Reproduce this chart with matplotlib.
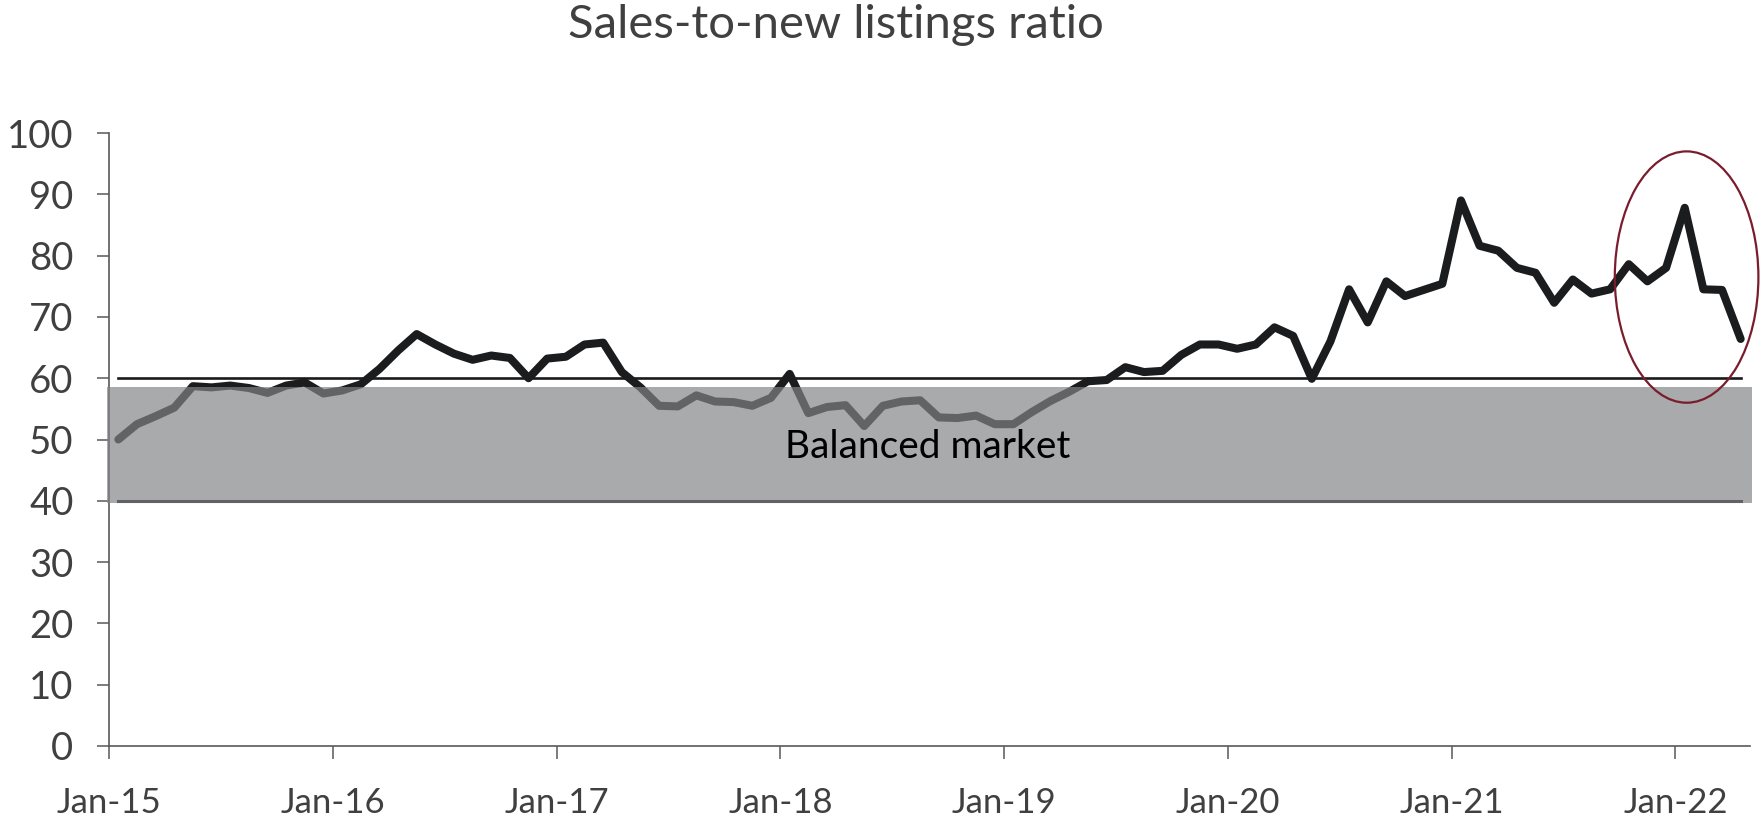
import numpy as np
import matplotlib
matplotlib.use("Agg")
import matplotlib.pyplot as plt
import matplotlib.patches as patches

# ------------------------
# Datos (mensual, ene-2015 a abr-2022)
# ------------------------
ratio_2015 = [50.0, 52.5, 53.8, 55.2, 58.7, 58.5, 58.8, 58.4, 57.6, 58.8, 59.3, 57.5]
ratio_2016 = [58.0, 59.0, 61.5, 64.5, 67.2, 65.5, 64.0, 63.0, 63.7, 63.3, 60.0, 63.2]
ratio_2017 = [63.5, 65.5, 65.8, 61.0, 58.5, 55.5, 55.4, 57.2, 56.2, 56.1, 55.5, 56.8]
ratio_2018 = [60.7, 54.3, 55.3, 55.6, 52.2, 55.5, 56.2, 56.4, 53.6, 53.5, 53.9, 52.5]
ratio_2019 = [52.5, 54.5, 56.3, 57.8, 59.5, 59.7, 61.8, 61.0, 61.2, 63.8, 65.5, 65.5]
ratio_2020 = [64.8, 65.5, 68.3, 66.9, 59.9, 66.0, 74.5, 69.1, 75.8, 73.4, 74.4, 75.4]
ratio_2021 = [89.0, 81.6, 80.8, 78.0, 77.2, 72.3, 76.1, 73.8, 74.5, 78.6, 75.8, 78.0]
ratio_2022 = [87.8, 74.5, 74.4, 66.4]

ratio = ratio_2015 + ratio_2016 + ratio_2017 + ratio_2018 + ratio_2019 + ratio_2020 + ratio_2021 + ratio_2022

tick_labels = ["Jan-15", "Jan-16", "Jan-17", "Jan-18", "Jan-19", "Jan-20", "Jan-21", "Jan-22"]
y_ticks = [0, 10, 20, 30, 40, 50, 60, 70, 80, 90, 100]

LIMITE_SUPERIOR = 60   # linea negra
LIMITE_INFERIOR = 40   # linea bajo la banda
BANDA_BAJO = 39.7      # borde inferior de la banda gris (cubre la linea de 40)
BANDA_ALTO = 58.6      # borde superior de la banda gris

FUENTE = ["Lato", "DejaVu Sans"]
GRIS_TEXTO = "#404040"
GRIS_EJE = "#595959"

# ------------------------
# Figura
# ------------------------
fig = plt.figure(figsize=(17.6, 8.25), dpi=100)
ax = fig.add_axes([109 / 1760, 1 - 746 / 825, (1750 - 109) / 1760, (746 - 133) / 825])

n = len(ratio)
x = np.arange(n) + 0.5

# lineas de referencia
ax.plot([x[0], x[-1]], [LIMITE_SUPERIOR, LIMITE_SUPERIOR], color="#1a1a1a", lw=1.9, zorder=1.5)
ax.plot([x[0], x[-1]], [LIMITE_INFERIOR, LIMITE_INFERIOR], color="#1a1a1a", lw=2.2, zorder=1.5)

# serie principal
ax.plot(x, ratio, color="#1b1c1e", lw=5.8, solid_capstyle="round", solid_joinstyle="round", zorder=2)

# banda "Balanced market" semitransparente por encima de la serie
banda = patches.Rectangle((-0.12, BANDA_BAJO), n + 0.24, BANDA_ALTO - BANDA_BAJO,
                          facecolor="#838486", alpha=0.69, edgecolor="none", zorder=3, clip_on=False)
ax.add_patch(banda)
ax.text(43.9, 48.8, "Balanced market", fontsize=28, family=FUENTE, color="black",
        ha="center", va="center", zorder=4)

# elipse alrededor del ultimo pico
pico = 84
elipse = patches.Ellipse((x[pico] + 0.1, 76.5), 7.7, 41.0, fill=False, edgecolor="#7a1c2e",
                         lw=1.6, zorder=5, clip_on=False)
ax.add_patch(elipse)

# ejes
ax.set_xlim(0, n)
ax.set_ylim(0, 100)
ax.set_xticks(np.arange(0, n, 12))
ax.set_xticklabels(tick_labels)
ax.set_yticks(y_ticks)
ax.set_yticklabels([str(v) for v in y_ticks])

for lado in ["top", "right"]:
    ax.spines[lado].set_visible(False)
for lado in ["left", "bottom"]:
    ax.spines[lado].set_color(GRIS_EJE)
    ax.spines[lado].set_linewidth(1.2)

ax.tick_params(axis="y", direction="out", length=8.6, width=1.1, color=GRIS_EJE, pad=17)
ax.tick_params(axis="x", direction="out", length=9.4, width=1.1, color=GRIS_EJE, pad=20)
for lbl in ax.get_yticklabels():
    lbl.set_family(FUENTE)
    lbl.set_fontsize(27.5)
    lbl.set_color(GRIS_TEXTO)
for lbl in ax.get_xticklabels():
    lbl.set_family(FUENTE)
    lbl.set_fontsize(25)
    lbl.set_color(GRIS_TEXTO)

fig.text(836 / 1760, 1 - 25 / 825, "Sales-to-new listings ratio", fontsize=34, family=FUENTE,
         color=GRIS_TEXTO, ha="center", va="center")

fig.savefig("out.png", dpi=100)
